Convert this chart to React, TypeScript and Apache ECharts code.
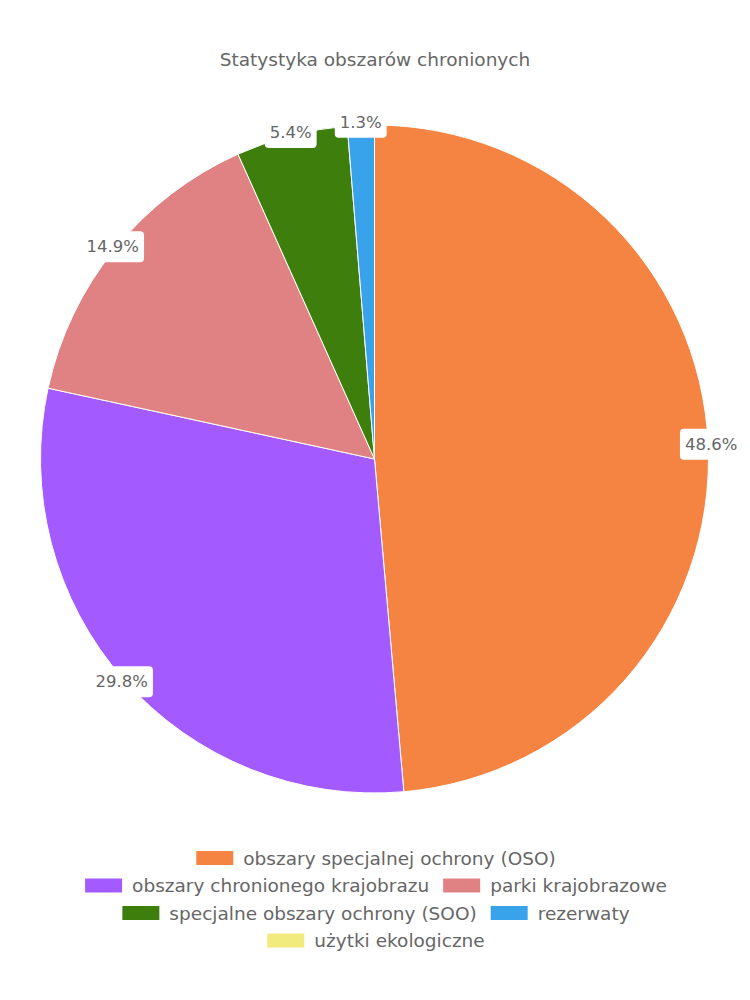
import React, { useEffect, useRef } from "react";
import * as echarts from "echarts";

const titleText = "Statystyka obszarów chronionych";
const categories = [
  "obszary specjalnej ochrony (OSO)",
  "obszary chronionego krajobrazu",
  "parki krajobrazowe",
  "specjalne obszary ochrony (SOO)",
  "rezerwaty",
  "użytki ekologiczne",
];
const values = [48.6, 29.8, 14.9, 5.4, 1.3, 0];
const colors = ["#F58442", "#A35BFF", "#E08283", "#3E7E0C", "#38A2EB", "#F0EB7C"];
// legend rows (indices into categories)
const legendRows = [[0], [1, 2], [3, 4], [5]];

const FONT = "'DejaVu Sans', sans-serif";

export default function App() {
  const ref = useRef<HTMLDivElement>(null);
  useEffect(() => {
    document.body.style.margin = "0";
    if (!ref.current) return;
    const chart = echarts.init(ref.current, undefined, { renderer: "svg" });
    const R = 334;
    const data = categories.map((name, i) => ({
      name,
      value: values[i],
      itemStyle: { color: colors[i] },
    }));
    const labelData = categories.map((name, i) => ({
      name,
      value: values[i],
      label: { show: values[i] > 0 },
    }));
    const rowTops = [843.5, 871, 898.5, 926];
    chart.setOption({
      animation: false,
      color: colors,
      textStyle: { fontFamily: FONT },
      title: {
        text: titleText,
        left: "center",
        top: 45,
        textStyle: { fontSize: 18.5, fontWeight: "normal", color: "#666", fontFamily: FONT },
      },
      legend: legendRows.map((row, r) => ({
        top: rowTops[r],
        left: "center",
        itemWidth: 39,
        itemHeight: 16,
        itemGap: 12,
        icon: "rect",
        data: row.map((i) => categories[i]),
        textStyle: { fontSize: 18.5, lineHeight: 16, color: "#666", fontFamily: FONT, padding: [0, 0, 0, 4] },
      })),
      series: [
        {
          type: "pie",
          center: [374.5, 459],
          radius: [0, R],
          startAngle: 90,
          clockwise: true,
          silent: true,
          label: { show: false },
          labelLine: { show: false },
          itemStyle: { borderColor: "#fff", borderWidth: 1 },
          data,
        },
        {
          type: "pie",
          center: [374.5, 459],
          radius: [0, R * 2],
          startAngle: 90,
          clockwise: true,
          silent: true,
          percentPrecision: 1,
          itemStyle: { color: "rgba(0,0,0,0)", borderWidth: 0 },
          label: {
            show: true,
            position: "inside",
            formatter: "{d}%",
            fontSize: 16.5,
            color: "#666",
            fontFamily: FONT,
            backgroundColor: "#fff",
            borderRadius: 4,
            padding: [7, 5],
          },
          labelLine: { show: false },
          data: labelData,
        },
      ],
    });
    return () => chart.dispose();
  }, []);
  return <div ref={ref} style={{ width: 750, height: 1000 }} />;
}
